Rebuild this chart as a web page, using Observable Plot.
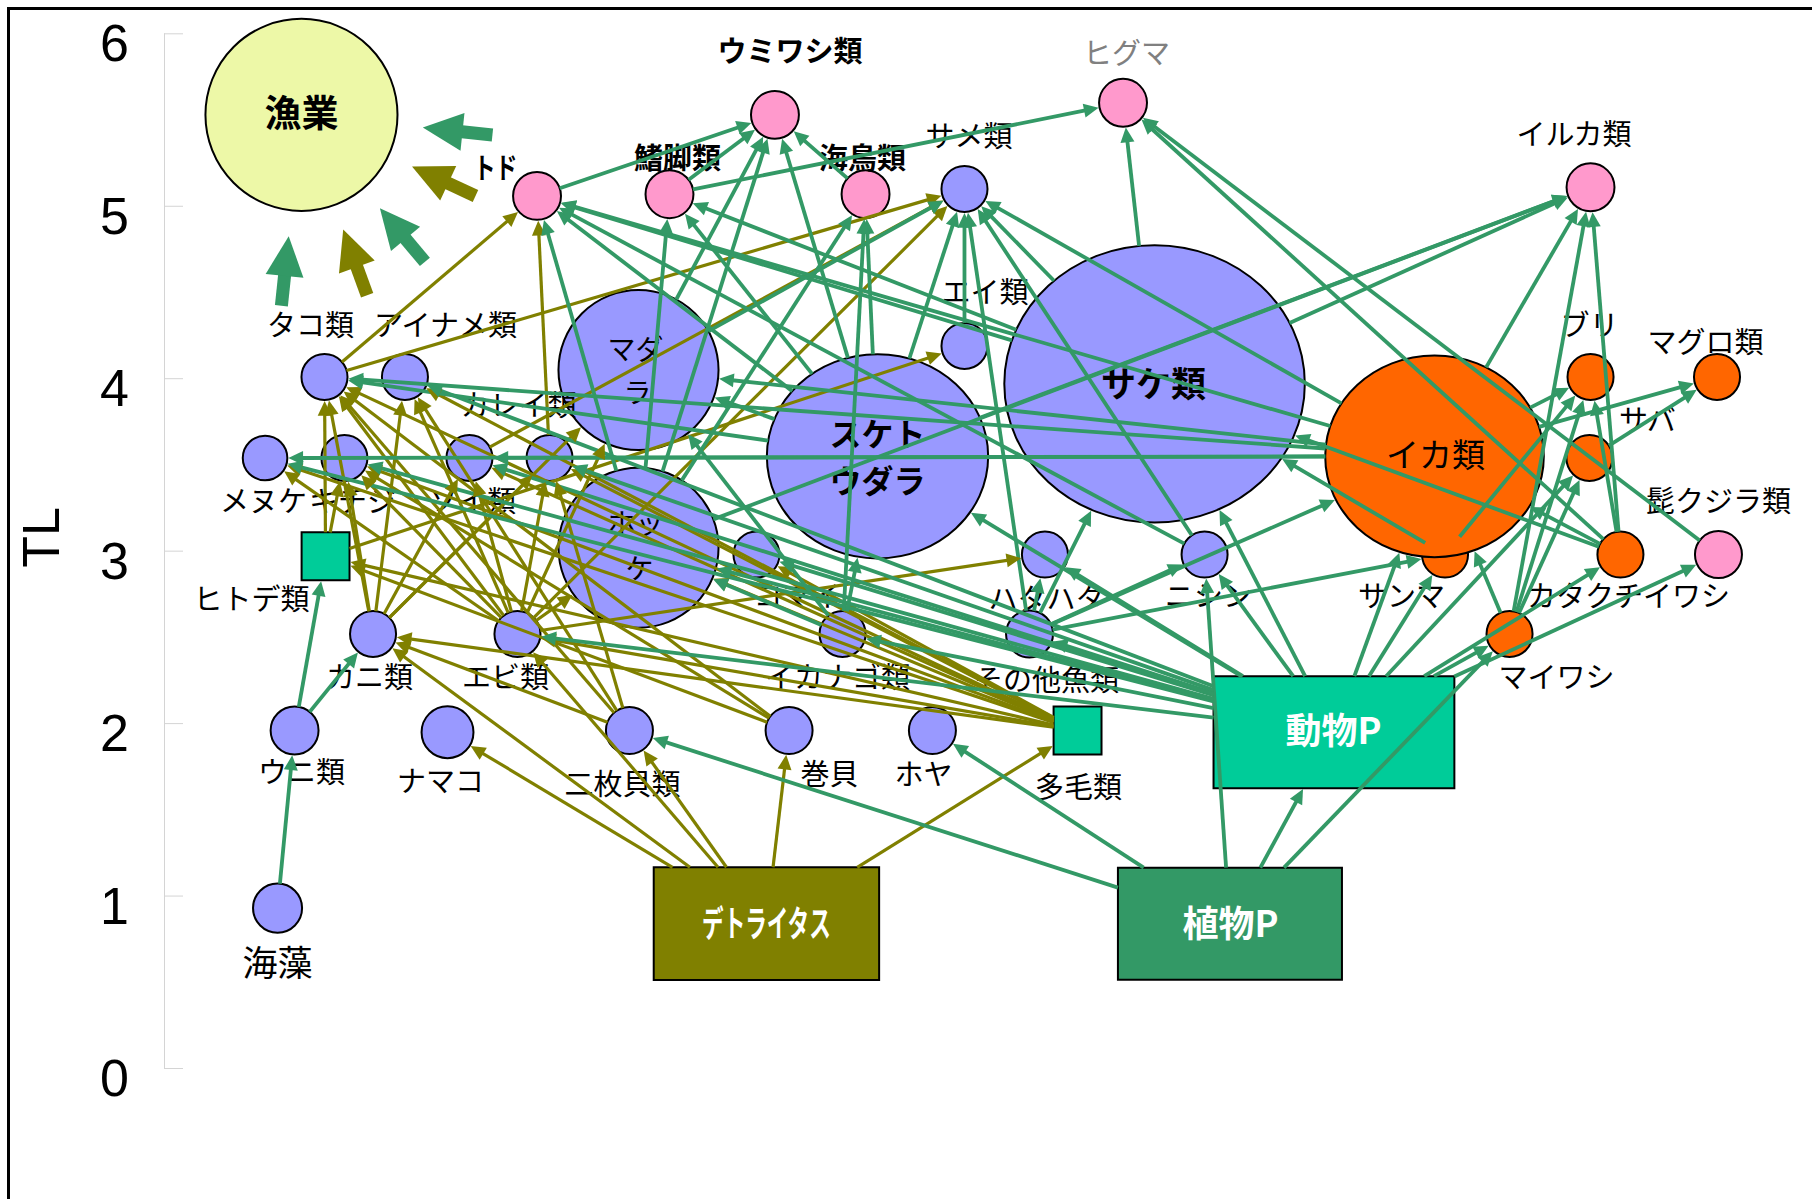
<!DOCTYPE html>
<html>
<head>
<meta charset="utf-8">
<script src="https://cdn.jsdelivr.net/npm/d3@7"></script>
<script src="https://cdn.jsdelivr.net/npm/@observablehq/plot@0.6"></script>
<style>
  html, body { margin: 0; padding: 0; background: #fff; }
  #wrap { position: relative; width: 1812px; height: 1199px; overflow: hidden; }
  #frame { position: absolute; left: 7px; top: 7px; width: 1900px; height: 1300px;
           border-left: 3px solid #000; border-top: 3px solid #000; pointer-events: none; }
</style>
</head>
<body>
<div id="wrap"><div id="chart"></div><div id="frame"></div></div>
<script>
// ---------------- data ----------------
const nodeNames = ["漁業","トド","鰭脚類","ウミワシ類","海鳥類","サメ類","ヒグマ","イルカ類","エイ類","タコ類","アイナメ類","マダラ","サケ類","ブリ","マグロ類","メヌケ","キチジ","ソイ類","カレイ類","スケトウダラ","イカ類","サバ","ヒトデ類","ホッケ","コマイ","ハタハタ","ニシン","サンマ","カタクチイワシ","髭クジラ類","カニ類","エビ類","イカナゴ類","その他魚類","マイワシ","ウニ類","ナマコ","二枚貝類","巻貝","ホヤ","多毛類","動物P","海藻","デトライタス","植物P"];
// horizontal layout position (0-100)
const nodePos = [16.61,29.61,36.92,42.74,47.74,53.2,61.95,87.75,53.2,17.88,22.32,35.21,63.69,87.75,94.73,14.6,18.98,25.88,30.3,48.4,79.14,87.69,17.94,35.21,41.72,57.64,66.45,79.72,89.4,94.81,20.56,28.53,46.47,56.79,83.28,16.23,24.67,34.71,43.52,51.43,59.44,73.59,15.29,42.27,67.85];
// trophic level
const nodeTL = [5.53,5.06,5.07,5.53,5.07,5.10,5.60,5.11,4.19,4.01,4.01,4.05,3.97,4.01,4.01,3.54,3.54,3.54,3.54,3.55,3.55,3.54,2.97,3.02,2.98,2.98,2.98,2.98,2.98,2.98,2.52,2.52,2.52,2.52,2.52,1.96,1.95,1.96,1.96,1.96,1.96,1.95,0.93,0.84,0.84];
// relative biomass index (bubble size)
const nodeBiomass = [16.7,1.04,1.04,1.04,1.04,0.96,1.04,1.04,0.96,0.96,0.96,11.6,37.8,0.96,0.96,0.9,0.96,0.96,0.96,20.5,20.0,0.96,1.04,11.6,0.96,0.96,0.96,0.96,0.96,1.0,0.96,0.96,0.96,1.0,0.96,1.04,1.22,1.0,1.0,1.0,1.04,5.68,1.09,5.75,5.68];
const nodeShape = ["circle","circle","circle","circle","circle","circle","circle","circle","circle","circle","circle","circle","ellipse","circle","circle","circle","circle","circle","circle","ellipse","ellipse","circle","square","circle","circle","circle","circle","circle","circle","circle","circle","circle","circle","circle","circle","circle","circle","circle","circle","circle","square","wideBox","circle","box","box"];
const nodeKind = ["fishery","top","top","top","top","fish","top","top","fish","fish","fish","fish","fish","warm","warm","fish","fish","fish","fish","fish","warm","warm","zoo","fish","fish","fish","fish","warm","warm","top","fish","fish","fish","fish","warm","fish","fish","fish","fish","fish","zoo","zoo","fish","detritus","phyto"];

// benthic (detritus-based) sources draw olive arrows
const benthicSources = ["デトライタス","二枚貝類","巻貝","多毛類","カニ類","エビ類","ヒトデ類","ナマコ","タコ類","カレイ類","ソイ類","キチジ","メヌケ","アイナメ類"];

// feeding links: [prey, predator]
const edges = [
  ["デトライタス","ナマコ"],["デトライタス","カニ類"],["デトライタス","エビ類"],["デトライタス","二枚貝類"],["デトライタス","巻貝"],["デトライタス","多毛類"],
  ["二枚貝類","カニ類"],["二枚貝類","タコ類"],["二枚貝類","カレイ類"],["二枚貝類","アイナメ類"],
  ["巻貝","ヒトデ類"],["巻貝","タコ類"],["巻貝","キチジ"],
  ["多毛類","カニ類"],["多毛類","ヒトデ類"],["多毛類","コマイ"],["多毛類","カレイ類"],["多毛類","キチジ"],["多毛類","メヌケ"],["多毛類","ソイ類"],["多毛類","アイナメ類"],["多毛類","エビ類"],["多毛類","ホッケ"],["多毛類","タコ類"],
  ["カニ類","タコ類"],["カニ類","アイナメ類"],["カニ類","カレイ類"],["カニ類","マダラ"],["カニ類","ソイ類"],["カニ類","キチジ"],
  ["エビ類","タコ類"],["エビ類","メヌケ"],["エビ類","キチジ"],["エビ類","ソイ類"],["エビ類","カレイ類"],["エビ類","マダラ"],["エビ類","ホッケ"],["エビ類","ハタハタ"],["エビ類","アイナメ類"],["エビ類","サメ類"],
  ["ヒトデ類","タコ類"],["ヒトデ類","キチジ"],["ヒトデ類","エイ類"],
  ["タコ類","トド"],["タコ類","サメ類"],["カレイ類","トド"],["ソイ類","サメ類"],
  ["海藻","ウニ類"],["ウニ類","ヒトデ類"],["ウニ類","カニ類"],
  ["植物P","動物P"],["植物P","二枚貝類"],["植物P","ホヤ"],["植物P","ニシン"],["植物P","マイワシ"],
  ["動物P","ハタハタ"],["動物P","ニシン"],["動物P","サケ類"],["動物P","イカ類"],["動物P","サンマ"],["動物P","マイワシ"],["動物P","カタクチイワシ"],["動物P","髭クジラ類"],["動物P","サバ"],["動物P","その他魚類"],["動物P","イカナゴ類"],["動物P","コマイ"],["動物P","ホッケ"],["動物P","スケトウダラ"],["動物P","エビ類"],["動物P","カレイ類"],["動物P","ソイ類"],["動物P","メヌケ"],["動物P","キチジ"],["動物P","アイナメ類"],
  ["スケトウダラ","トド"],["スケトウダラ","鰭脚類"],["スケトウダラ","ウミワシ類"],["スケトウダラ","海鳥類"],["スケトウダラ","サメ類"],["スケトウダラ","イルカ類"],["スケトウダラ","マダラ"],["スケトウダラ","タコ類"],
  ["ホッケ","トド"],["ホッケ","鰭脚類"],["ホッケ","ウミワシ類"],["ホッケ","海鳥類"],["ホッケ","イルカ類"],
  ["マダラ","サメ類"],["マダラ","ウミワシ類"],
  ["サケ類","トド"],["サケ類","鰭脚類"],["サケ類","ヒグマ"],["サケ類","イルカ類"],["サケ類","サメ類"],
  ["イカ類","トド"],["イカ類","サメ類"],["イカ類","イルカ類"],["イカ類","マグロ類"],["イカ類","ブリ"],["イカ類","マダラ"],["イカ類","タコ類"],["イカ類","メヌケ"],["イカ類","ソイ類"],
  ["エイ類","サメ類"],
  ["その他魚類","サメ類"],["その他魚類","サケ類"],["その他魚類","ニシン"],["その他魚類","ハタハタ"],["その他魚類","イカ類"],["その他魚類","サンマ"],
  ["ニシン","サメ類"],["ニシン","トド"],
  ["トド","ウミワシ類"],["鰭脚類","ウミワシ類"],["鰭脚類","ヒグマ"],["海鳥類","ウミワシ類"],
  ["サンマ","サケ類"],["サンマ","ブリ"],
  ["マイワシ","イカ類"],["マイワシ","サバ"],["マイワシ","ブリ"],["マイワシ","イルカ類"],
  ["カタクチイワシ","イカ類"],["カタクチイワシ","サケ類"],["カタクチイワシ","ブリ"],["カタクチイワシ","イルカ類"],["カタクチイワシ","ヒグマ"],
  ["髭クジラ類","ヒグマ"],["サバ","マグロ類"],
  ["イカナゴ類","スケトウダラ"],["イカナゴ類","マダラ"],["イカナゴ類","海鳥類"],["イカナゴ類","ホッケ"]
];

// catch flows into the fishery: direction (degrees, clockwise from east) and food chain
const catchAngle = [6, 25, 50, 70, 96];
const catchChain = ["pelagic","benthic","pelagic","benthic","pelagic"];

// labels (two-line names are given one entry per line)
const labelText = ["漁業","トド","鰭脚類","ウミワシ類","海鳥類","サメ類","ヒグマ","イルカ類","エイ類","タコ類","アイナメ類","マダ","ラ","サケ類","ブリ","マグロ類","メヌケ","キチジ","ソイ類","カレイ類","スケト","ウダラ","イカ類","サバ","髭クジラ類","ヒトデ類","ホッ","ケ","コマイ","ハタハタ","ニシン","サンマ","カタクチイワシ","カニ類","エビ類","イカナゴ類","その他魚類","マイワシ","ウニ類","ナマコ","二枚貝類","巻貝","ホヤ","多毛類","動物P","海藻","デトライタス","植物P"];
const labelPos = [16.61,27.32,37.36,43.57,47.57,53.45,62.14,86.84,54.33,17.11,24.56,35.04,35.15,63.63,87.69,94.09,14.51,19.43,26.05,28.59,48.40,48.40,79.19,90.89,94.81,13.85,35.04,35.26,43.96,57.73,66.67,77.32,89.85,20.36,27.87,46.19,57.73,85.87,16.61,24.28,34.33,45.75,50.94,59.49,73.57,15.29,42.27,67.88];
const labelTL = [5.53,5.21,5.27,5.89,5.27,5.40,5.88,5.41,4.49,4.30,4.30,4.16,3.91,3.96,4.30,4.20,3.28,3.28,3.28,3.84,3.671,3.398,3.55,3.75,3.28,2.71,3.15,2.89,2.73,2.71,2.73,2.73,2.73,2.26,2.26,2.26,2.24,2.26,1.71,1.66,1.64,1.70,1.70,1.62,1.95,0.60,0.83,0.83];

const tickValues = [0,1,2,3,4,5,6];

// ---------------- styling / geometry ----------------
const W = 1812, H = 1199, MT = 33.3, MB = 131;
const GREEN = "#339966", OLIVE = "#808000";
const kindColor = {fishery:"#EDF8A7", top:"#FF99CC", fish:"#9999FF", warm:"#FF6600", zoo:"#00CC99", phyto:"#339966", detritus:"#808000"};
const R1 = 23.5;
const aspect = {square: 1, box: 2.0, wideBox: 2.15};
const HEADK = 2.1;
const FONT = "'Noto Sans CJK JP', 'Noto Sans', sans-serif";

const xs = d3.scaleLinear([0, 100], [0, W]);
const ys = d3.scaleLinear([0, 6], [H - MB, MT]);

const nodes = nodeNames.map((name, i) => ({name, pos: nodePos[i], tl: nodeTL[i], b: nodeBiomass[i], shape: nodeShape[i], kind: nodeKind[i], fill: kindColor[nodeKind[i]]}));
const byName = new Map(nodes.map(n => [n.name, n]));
const benthic = new Set(benthicSources);

function reach(n, ux, uy) {
  const r = R1 * Math.sqrt(n.b);
  if (n.shape === "circle") return r;
  if (n.shape === "ellipse") { const rx = r * 1.04, ry = r * 0.96; return 1 / Math.sqrt((ux / rx) ** 2 + (uy / ry) ** 2); }
  const w = r * aspect[n.shape], h = r;
  return Math.min(Math.abs(ux) > 1e-9 ? w / Math.abs(ux) : Infinity, Math.abs(uy) > 1e-9 ? h / Math.abs(uy) : Infinity);
}

const HEAD_R = 7;
const segs = [], heads = [];
for (const [s, t] of edges) {
  const a = byName.get(s), b = byName.get(t);
  const ax = xs(a.pos), ay = ys(a.tl), bx = xs(b.pos), by = ys(b.tl);
  const dx = bx - ax, dy = by - ay, L = Math.hypot(dx, dy), ux = dx / L, uy = dy / L;
  const t0 = reach(a, ux, uy), t1 = reach(b, ux, uy) + 1;
  const px = ax + ux * t0, py = ay + uy * t0;
  const tx = bx - ux * t1, ty = by - uy * t1;
  const ex = tx - ux * HEAD_R * HEADK * 0.75, ey = ty - uy * HEAD_R * HEADK * 0.75;
  const color = benthic.has(s) ? OLIVE : GREEN;
  segs.push({x1: xs.invert(px), y1: ys.invert(py), x2: xs.invert(ex), y2: ys.invert(ey), color, benthic: benthic.has(s)});
  heads.push({x: xs.invert(tx), y: ys.invert(ty), angle: Math.atan2(ux, -uy) * 180 / Math.PI, color});
}

// fishery block arrows
const fish = byName.get("漁業");
const fcx = xs(fish.pos), fcy = ys(fish.tl);
const BIG_R = 19, tipDist = 122, arrowLen = 70;
const catchShafts = [], catchHeads = [];
catchAngle.forEach((deg, i) => {
  const th = deg * Math.PI / 180, cx = Math.cos(th), cy = Math.sin(th);
  const tipx = fcx + cx * tipDist, tipy = fcy + cy * tipDist;
  const tailx = fcx + cx * (tipDist + arrowLen), taily = fcy + cy * (tipDist + arrowLen);
  const endx = fcx + cx * (tipDist + 30), endy = fcy + cy * (tipDist + 30);
  const color = catchChain[i] === "benthic" ? OLIVE : GREEN;
  catchShafts.push({x1: xs.invert(tailx), y1: ys.invert(taily), x2: xs.invert(endx), y2: ys.invert(endy), color});
  catchHeads.push({x: xs.invert(tipx), y: ys.invert(tipy), angle: Math.atan2(-cx, cy) * 180 / Math.PI, color});
});

// custom symbols
const ellipseSym = {draw(ctx, size) {
  const r = Math.sqrt(size / Math.PI), rx = r * 1.04, ry = r * 0.96, k = 0.5523;
  ctx.moveTo(rx, 0);
  ctx.bezierCurveTo(rx, ry * k, rx * k, ry, 0, ry);
  ctx.bezierCurveTo(-rx * k, ry, -rx, ry * k, -rx, 0);
  ctx.bezierCurveTo(-rx, -ry * k, -rx * k, -ry, 0, -ry);
  ctx.bezierCurveTo(rx * k, -ry, rx, -ry * k, rx, 0);
  ctx.closePath();
}};
const boxSym = (asp) => ({draw(ctx, size) {
  const h = Math.sqrt(size / Math.PI), w = h * asp;
  ctx.rect(-w, -h, 2 * w, 2 * h);
}});
const headSym = {draw(ctx, size) {
  const r = Math.sqrt(size / Math.PI);
  ctx.moveTo(0, 0); ctx.lineTo(r, HEADK * r); ctx.lineTo(-r, HEADK * r); ctx.closePath();
}};

// labels grouped by style
const labels = labelText.map((text, i) => ({text, pos: labelPos[i], tl: labelTL[i]}));
const styleOf = (t) => {
  if (t === "漁業") return "fishery";
  if (["トド","鰭脚類","ウミワシ類","海鳥類"].includes(t)) return "boldTop";
  if (t === "サケ類") return "bigBold";
  if (t === "スケト" || t === "ウダラ") return "bigBold2";
  if (t === "イカ類") return "big";
  if (["マダ","ラ","ホッ","ケ"].includes(t)) return "twoLine";
  if (t === "海藻") return "seaweed";
  if (["動物P","植物P","デトライタス"].includes(t)) return "boxLabel";
  if (t === "ヒグマ") return "grey";
  return "normal";
};
const styles = {
  fishery: {fontSize: 37, fontWeight: "bold", fill: "#000"},
  boldTop: {fontSize: 29, fontWeight: "bold", fill: "#000"},
  bigBold: {fontSize: 35, fontWeight: "bold", fill: "#000"},
  bigBold2: {fontSize: 32, fontWeight: "bold", fill: "#000"},
  big: {fontSize: 33, fontWeight: "normal", fill: "#000"},
  twoLine: {fontSize: 28, fontWeight: "normal", fill: "#000"},
  seaweed: {fontSize: 35, fontWeight: "normal", fill: "#000"},
  boxLabel: {fontSize: 36, fontWeight: "bold", fill: "#fff"},
  grey: {fontSize: 29, fontWeight: "normal", fill: "#808080"},
  normal: {fontSize: 29, fontWeight: "normal", fill: "#000"}
};
const labelMarks = Object.entries(styles).map(([key, st]) =>
  Plot.text(labels.filter(d => styleOf(d.text) === key), {x: "pos", y: "tl", text: "text", fontFamily: FONT, ...st})
);

const axisPos = xs.invert(164), tickEnd = xs.invert(183), tickLabelPos = xs.invert(114);

const nodeStyle = {x: "pos", y: "tl", r: "b", fill: "fill", stroke: "#000", strokeWidth: 2};

const chart = Plot.plot({
  width: W, height: H,
  marginLeft: 0, marginRight: 0, marginTop: MT, marginBottom: MB,
  x: {domain: [0, 100], axis: null},
  y: {domain: [0, 6], axis: null},
  r: {type: "sqrt", domain: [0, 1], range: [0, R1]},
  color: {type: "identity"},
  style: {background: "white", overflow: "visible"},
  marks: [
    Plot.ruleX([axisPos], {y1: 0, y2: 6, stroke: "#d4d4d4", strokeWidth: 1}),
    Plot.ruleY(tickValues, {y: d => d, x1: axisPos, x2: tickEnd, stroke: "#d4d4d4", strokeWidth: 1}),
    Plot.text(tickValues, {x: tickLabelPos, y: d => d, dy: 11, text: d => `${d}`, fontSize: 52, fontFamily: "'Liberation Sans Narrow', 'Liberation Sans', sans-serif", fill: "#000"}),
    Plot.text(["TL"], {x: xs.invert(42), y: ys.invert(537), text: d => d, rotate: -90, fontSize: 52, fontFamily: "'Liberation Sans', sans-serif", fill: "#000"}),
    // nodes
    Plot.dot(nodes.filter(d => d.shape === "circle"), nodeStyle),
    Plot.dot(nodes.filter(d => d.shape === "ellipse"), {...nodeStyle, symbol: ellipseSym}),
    Plot.dot(nodes.filter(d => d.shape === "square"), {...nodeStyle, symbol: boxSym(aspect.square)}),
    Plot.dot(nodes.filter(d => d.shape === "box"), {...nodeStyle, symbol: boxSym(aspect.box)}),
    Plot.dot(nodes.filter(d => d.shape === "wideBox"), {...nodeStyle, symbol: boxSym(aspect.wideBox)}),
    // labels
    ...labelMarks,
    // feeding links
    Plot.link(segs.filter(d => d.benthic), {x1: "x1", y1: "y1", x2: "x2", y2: "y2", stroke: "color", strokeWidth: 3.2}),
    Plot.link(segs.filter(d => !d.benthic), {x1: "x1", y1: "y1", x2: "x2", y2: "y2", stroke: "color", strokeWidth: 3.8}),
    Plot.dot(heads, {x: "x", y: "y", r: HEAD_R, symbol: headSym, rotate: "angle", fill: "color", stroke: "none"}),
    // catch flows
    Plot.link(catchShafts, {x1: "x1", y1: "y1", x2: "x2", y2: "y2", stroke: "color", strokeWidth: 13, strokeLinecap: "butt"}),
    Plot.dot(catchHeads, {x: "x", y: "y", r: BIG_R, symbol: headSym, rotate: "angle", fill: "color", stroke: "none"})
  ]
});
document.getElementById("chart").appendChild(chart);

// condensed (half-width style) lettering for two labels, as in the original
const condense = {"デトライタス": 0.6, "トド": 0.75};
d3.select(chart).selectAll("text").each(function() {
  const s = condense[this.textContent];
  if (!s) return;
  const tr = this.getAttribute("transform");
  if (tr) this.setAttribute("transform", `${tr} scale(${s},1)`);
  else {
    const x = +this.getAttribute("x") || 0, y = +this.getAttribute("y") || 0;
    this.setAttribute("transform", `translate(${x},${y}) scale(${s},1) translate(${-x},${-y})`);
  }
});
</script>
</body>
</html>
